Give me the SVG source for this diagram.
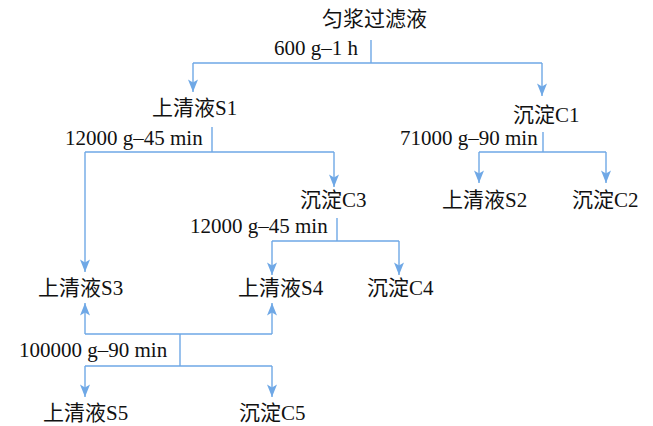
<svg xmlns="http://www.w3.org/2000/svg" width="653" height="426" viewBox="0 0 653 426">
<style>
text{font-family:"Liberation Serif","Noto Sans CJK SC",serif;font-size:21px;fill:#111;}
.c path{fill:none;stroke:#6fa8e6;stroke-width:1.4;}
</style>
<defs>
<marker id="ah" markerUnits="userSpaceOnUse" markerWidth="16" markerHeight="12" viewBox="-13 -6 14 12" refX="0" refY="0" orient="auto">
<path d="M0,0 L-12.5,-5 L-9.5,0 L-12.5,5 Z" fill="#6fa8e6"/>
</marker>
</defs>
<rect width="653" height="426" fill="#fff"/>
<g class="c" id="connectors">
<path d="M371,40 V63 M193,63 H542"/>
<path d="M193,63 V92" marker-end="url(#ah)"/>
<path d="M542,63 V96" marker-end="url(#ah)"/>
<path d="M212,127 V152 M85,152 H334"/>
<path d="M334,152 V187" marker-end="url(#ah)"/>
<path d="M85,152 V272" marker-end="url(#ah)"/>
<path d="M543,132 V152 M479,152 H606"/>
<path d="M479,152 V183" marker-end="url(#ah)"/>
<path d="M606,152 V183" marker-end="url(#ah)"/>
<path d="M337,218 V241 M272,241 H399"/>
<path d="M272,241 V275" marker-end="url(#ah)"/>
<path d="M399,241 V275" marker-end="url(#ah)"/>
<path d="M85,334 H272 M180,334 V366 M85,366 H272"/>
<path d="M85,334 V303" marker-end="url(#ah)"/>
<path d="M272,334 V303" marker-end="url(#ah)"/>
<path d="M85,366 V397" marker-end="url(#ah)"/>
<path d="M272,366 V397" marker-end="url(#ah)"/>
</g>
<g id="labels">
<text x="274" y="55">600 g–1 h</text>
<text x="65" y="145">12000 g–45 min</text>
<text x="400" y="145">71000 g–90 min</text>
<text x="190" y="233">12000 g–45 min</text>
<text x="19" y="357">100000 g–90 min</text>
</g>
<g id="root"><text x="322" y="26">匀浆过滤液</text></g>
<g id="S1"><text x="152" y="115">上清液S1</text></g>
<g id="C1"><text x="513" y="122">沉淀C1</text></g>
<g id="C3"><text x="300" y="207">沉淀C3</text></g>
<g id="S2"><text x="442" y="207">上清液S2</text></g>
<g id="C2"><text x="572" y="207">沉淀C2</text></g>
<g id="S3"><text x="38" y="295">上清液S3</text></g>
<g id="S4"><text x="238" y="295">上清液S4</text></g>
<g id="C4"><text x="367" y="295">沉淀C4</text></g>
<g id="S5"><text x="43" y="420">上清液S5</text></g>
<g id="C5"><text x="239" y="420">沉淀C5</text></g>
</svg>
